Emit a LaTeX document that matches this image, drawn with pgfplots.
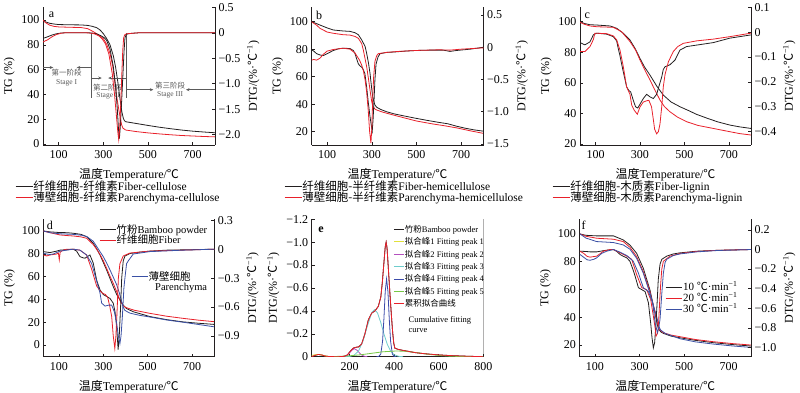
\documentclass[border=0pt]{standalone}
\usepackage{fontspec}
\setmainfont{Liberation Serif}
\newfontfamily\cjk{Noto Sans CJK SC}
\usepackage{pgfplots}
\pgfplotsset{compat=1.18}
\usetikzlibrary{arrows.meta}
\definecolor{cblk}{RGB}{35,31,32}
\definecolor{cred}{RGB}{232,32,42}
\definecolor{cblu}{RGB}{58,80,165}
\definecolor{cyel}{RGB}{225,225,60}
\definecolor{cpur}{RGB}{180,80,190}
\definecolor{ccya}{RGB}{110,205,205}
\definecolor{cnav}{RGB}{60,75,170}
\definecolor{cgrn}{RGB}{120,200,70}
\definecolor{cgry}{RGB}{90,90,90}
\pgfplotsset{
 base/.style={scale only axis, anchor=south west, xmin=30, xmax=800, height=137.5pt,
   tick align=inside, major tick length=3pt,
   every tick/.style={cblk, line width=0.5pt},
   axis line style={cblk, line width=0.6pt},
   tick label style={font=\fontsize{12}{12}\selectfont},
   xticklabel style={yshift=-2.5pt},
   label style={font=\fontsize{12}{13}\selectfont},
   xlabel style={yshift=-3pt},
   /pgf/number format/assume math mode=true,
   every axis plot/.append style={line width=0.8pt},
   legend cell align=left,
   legend style={draw=none, fill=none, inner sep=0pt, nodes={inner sep=0.5pt}},
 },
 tgax/.style={base, axis x line*=bottom, axis y line*=left, xtick={100,300,500,700},
   xlabel={{\cjk 温度}Temperature/{\cjk ℃}}, ylabel={TG (\%)}},
 dtgax/.style={base, axis x line=none, axis y line*=right, xtick=\empty,
   ylabel={DTG/(\%·{\cjk ℃}\textsuperscript{−1})}},
}
\begin{document}
\begin{tikzpicture}
\path[use as bounding box] (0,0) rectangle (800pt,392pt);
%================ a
\begin{axis}[tgax, at={(43pt,247.2pt)}, width=172pt, ymin=-0.6, ymax=110.2, ytick={0,20,40,60,80,100},
  legend style={at={(-0.163,-0.255)}, anchor=north west, font=\fontsize{11.5}{12}\selectfont, row sep=-1pt},
  legend image code/.code={\draw[#1] (0pt,0pt) -- (17pt,0pt);}]
\addplot[cblk] coordinates {(30,100)(40,98.5)(60,97.3)(80,96.7)(100,96.3)(150,96.1)(200,96.0)(230,95.6)(250,94.9)(270,93.8)(285,92.0)(300,89.0)(315,85.0)(330,80.0)(345,71.0)(355,62.0)(365,50.0)(375,36.0)(383,26.0)(390,20.5)(395,18.8)(400,18.0)(450,16.5)(500,15.0)(550,13.6)(600,12.4)(650,11.3)(700,10.4)(750,9.7)(800,9.1)};
\addlegendentry{{\cjk 纤维细胞-纤维素}Fiber-cellulose}
\addplot[cred] coordinates {(30,100)(40,98)(60,95.8)(80,94.8)(100,94.4)(150,94.1)(200,93.9)(230,93.0)(255,90.6)(280,87.8)(300,85.0)(315,80.5)(330,73.0)(342,63.0)(352,49.0)(362,36.0)(370,27.0)(376,21.0)(382,15.5)(388,12.8)(400,11.3)(450,10.0)(500,9.0)(550,8.2)(600,7.5)(650,6.9)(700,6.5)(750,6.1)(800,5.8)};
\addlegendentry{{\cjk 薄壁细胞-纤维素}Parenchyma-cellulose}
\draw[cgry, line width=0.8pt] (axis cs:248,89.4) -- (axis cs:248,37.2);
\draw[cgry, line width=0.8pt] (axis cs:405,89.4) -- (axis cs:405,37.2);
\begin{scope}[cgry, line width=0.6pt, -{Stealth[length=3.5pt,width=3pt]}]
\draw (axis cs:30,61.7) -- (axis cs:76,61.7);
\draw (axis cs:248,61.7) -- (axis cs:181,61.7);
\draw (axis cs:248,53.2) -- (axis cs:293,53.2);
\draw (axis cs:405,53.2) -- (axis cs:322,53.2);
\draw (axis cs:405,43.8) -- (axis cs:524,43.8);
\draw (axis cs:800,43.8) -- (axis cs:670,43.8);
\end{scope}
\begin{scope}[every node/.style={cgry, font=\fontsize{7.5}{8}\selectfont}]
\node at (axis cs:136,57.2) {\cjk 第一阶段};
\node at (axis cs:136,49.4) {Stage I};
\node at (axis cs:322,45.7) {\cjk 第二阶段};
\node at (axis cs:322,38.5) {Stage II};
\node at (axis cs:599,47) {\cjk 第三阶段};
\node at (axis cs:599,39.8) {Stage III};
\end{scope}
\node[font=\fontsize{12}{12}\selectfont] at (rel axis cs:0.05,0.944) {a};
\end{axis}
\begin{axis}[dtgax, at={(43pt,247.2pt)}, width=172pt, ymin=-2.2, ymax=0.5,
  ytick={0.5,0,-0.5,-1,-1.5,-2}, yticklabels={\textrm{0.5},\textrm{0},\textrm{−0.5},\textrm{−1.0},\textrm{−1.5},\textrm{−2.0}}]
\addplot[cblk] coordinates {(30,-0.11)(50,-0.08)(70,-0.045)(90,-0.02)(110,-0.005)(130,0)(230,0)(250,-0.005)(270,-0.02)(290,-0.06)(305,-0.1)(315,-0.15)(330,-0.32)(345,-0.67)(355,-1.05)(363,-1.52)(368,-1.9)(372,-2.08)(376,-1.85)(382,-1.35)(388,-0.8)(393,-0.35)(397,-0.1)(402,-0.04)(410,-0.02)(430,-0.01)(460,0)(800,0)};
\addplot[cred] coordinates {(30,-0.18)(50,-0.14)(70,-0.08)(90,-0.035)(110,-0.01)(130,0)(220,0)(240,-0.005)(260,-0.02)(280,-0.06)(295,-0.12)(310,-0.22)(325,-0.42)(340,-0.8)(350,-1.2)(358,-1.6)(365,-1.95)(369,-2.1)(373,-1.9)(378,-1.4)(383,-0.8)(387,-0.35)(391,-0.1)(396,-0.04)(405,-0.02)(430,-0.01)(460,0)(800,0)};
\end{axis}
%================ b
\begin{axis}[tgax, at={(311.5pt,247.2pt)}, width=172pt, ymin=10.5, ymax=110.5, ytick={20,40,60,80,100},
  legend style={at={(-0.16,-0.255)}, anchor=north west, font=\fontsize{11.5}{12}\selectfont, row sep=-1pt},
  legend image code/.code={\draw[#1] (0pt,0pt) -- (17pt,0pt);}]
\addplot[cblk] coordinates {(30,100)(53,98.6)(68,97.6)(100,95.5)(128,94.0)(170,93.3)(202,93.0)(225,92.0)(240,90.5)(255,86.7)(270,82)(277,77)(285,70)(292,62.5)(299,52)(304,45.5)(310,41.5)(314,39.4)(322,37.8)(340,36.2)(367,34.5)(400,33)(450,31.3)(500,29.7)(550,28.2)(600,26.8)(640,25.8)(680,24)(720,22.5)(760,21.3)(800,20.4)};
\addlegendentry{{\cjk 纤维细胞-半纤维素}Fiber-hemicellulose}
\addplot[cred] coordinates {(30,100)(53,97.5)(68,95.2)(100,92.5)(128,91.6)(170,90.6)(202,90.3)(225,89.3)(240,87.9)(255,84)(262,79.4)(270,73)(277,67.3)(285,58.5)(292,50.3)(299,42.5)(304,38.7)(314,36.5)(322,35.8)(350,34.2)(400,32)(426,30.9)(500,27.8)(575,25.6)(620,24.5)(680,22.8)(740,20.7)(800,18.8)};
\addlegendentry{{\cjk 薄壁细胞-半纤维素}Parenchyma-hemicellulose}
\node[font=\fontsize{12}{12}\selectfont] at (rel axis cs:0.044,0.944) {b};
\end{axis}
\begin{axis}[dtgax, at={(311.5pt,247.2pt)}, width=172pt, ymin=-1.515, ymax=0.62,
  ytick={0.5,0,-0.5,-1,-1.5}, yticklabels={\textrm{0.5},\textrm{0},\textrm{−0.5},\textrm{−1.0},\textrm{−1.5}}]
\addplot[cblk] coordinates {(31,-0.04)(40,-0.06)(53,-0.10)(68,-0.12)(83,-0.13)(100,-0.10)(128,-0.05)(150,-0.025)(172,-0.015)(202,-0.02)(217,-0.05)(225,-0.10)(232,-0.18)(240,-0.26)(247,-0.29)(255,-0.31)(262,-0.35)(269,-0.41)(277,-0.62)(284,-0.85)(292,-1.08)(298,-1.22)(302,-1.30)(306,-1.1)(310,-0.82)(314,-0.5)(319,-0.26)(328,-0.15)(337,-0.1)(367,-0.08)(396,-0.075)(450,-0.06)(500,-0.05)(560,-0.045)(620,-0.045)(650,-0.065)(680,-0.05)(740,-0.03)(800,0)};
\addplot[cred] coordinates {(31,-0.2)(40,-0.19)(53,-0.20)(68,-0.17)(83,-0.11)(100,-0.06)(128,-0.035)(172,-0.015)(202,-0.03)(225,-0.09)(232,-0.13)(245,-0.2)(255,-0.28)(262,-0.36)(270,-0.51)(277,-0.7)(284,-0.98)(290,-1.3)(296,-1.49)(300,-1.25)(304,-0.8)(308,-0.47)(314,-0.22)(322,-0.13)(329,-0.1)(367,-0.08)(420,-0.065)(500,-0.05)(600,-0.04)(650,-0.045)(700,-0.03)(800,-0.01)};
\end{axis}
%================ c
\begin{axis}[tgax, at={(580pt,247.2pt)}, width=171pt, ymin=19.5, ymax=109.4, ytick={20,40,60,80,100},
  legend style={at={(-0.164,-0.255)}, anchor=north west, font=\fontsize{11.5}{12}\selectfont, row sep=-1pt},
  legend image code/.code={\draw[#1] (0pt,0pt) -- (17pt,0pt);}]
\addplot[cblk] coordinates {(30,100)(50,98.8)(75,98.0)(105,97.8)(165,97.2)(195,95.7)(225,92.4)(255,88)(280,82)(300,76)(320,70.5)(345,65.1)(375,58)(405,52)(440,47.5)(480,44.4)(520,41.8)(555,39.4)(600,37)(650,34.5)(705,32.4)(750,31.2)(800,30.2)};
\addlegendentry{{\cjk 纤维细胞-木质素}Fiber-lignin}
\addplot[cred] coordinates {(30,99.6)(50,98.3)(75,97.2)(105,96.7)(180,96.3)(217,93.5)(255,87)(280,81.5)(300,75)(320,69)(345,61.9)(370,54.5)(390,48.8)(410,44.5)(435,41.1)(470,37.5)(510,34.6)(560,32.2)(630,30.2)(700,28.2)(750,26.8)(800,25.9)};
\addlegendentry{{\cjk 薄壁细胞-木质素}Parenchyma-lignin}
\node[font=\fontsize{12}{12}\selectfont] at (rel axis cs:0.043,0.937) {c};
\end{axis}
\begin{axis}[dtgax, at={(580pt,247.2pt)}, width=171pt, ymin=-0.453, ymax=0.1,
  ytick={0.1,0,-0.1,-0.2,-0.3,-0.4}, yticklabels={\textrm{0.1},\textrm{0},\textrm{−0.1},\textrm{−0.2},\textrm{−0.3},\textrm{−0.4}}]
\addplot[cblk] coordinates {(30,-0.042)(52,-0.051)(75,-0.039)(90,-0.011)(105,-0.004)(150,-0.008)(180,-0.018)(195,-0.035)(202,-0.065)(210,-0.095)(217,-0.126)(225,-0.16)(240,-0.22)(250,-0.235)(258,-0.24)(270,-0.274)(280,-0.30)(290,-0.305)(300,-0.29)(315,-0.267)(330,-0.25)(345,-0.26)(360,-0.267)(375,-0.25)(388,-0.21)(398,-0.18)(405,-0.15)(413,-0.139)(435,-0.131)(458,-0.112)(480,-0.072)(510,-0.058)(555,-0.052)(630,-0.042)(705,-0.024)(800,-0.011)};
\addplot[cred] coordinates {(30,-0.078)(52,-0.078)(75,-0.058)(90,-0.03)(97,-0.004)(150,-0.006)(180,-0.015)(195,-0.031)(210,-0.072)(225,-0.139)(240,-0.22)(255,-0.25)(263,-0.294)(275,-0.315)(288,-0.33)(300,-0.301)(315,-0.281)(330,-0.276)(340,-0.274)(352,-0.3)(360,-0.35)(366,-0.39)(375,-0.409)(383,-0.40)(390,-0.37)(398,-0.30)(405,-0.22)(413,-0.17)(428,-0.119)(450,-0.078)(470,-0.058)(495,-0.045)(555,-0.035)(630,-0.028)(705,-0.018)(800,-0.004)};
\end{axis}
%================ d
\begin{axis}[tgax, at={(43.3pt,35.3pt)}, width=171pt, ymin=-10.2, ymax=110.3, ytick={0,20,40,60,80,100},
  legend style={at={(0.326,0.966)}, anchor=north west, font=\fontsize{10.5}{11}\selectfont, row sep=-1pt},
  legend image code/.code={\draw[#1] (0pt,0pt) -- (16pt,0pt);}]
\addplot[cblk] coordinates {(30,100)(60,99.2)(105,98.6)(135,98.5)(165,98)(200,97)(225,95)(255,89.2)(270,84.5)(285,79)(300,72.5)(315,65.8)(330,58.5)(345,51.2)(360,44.5)(375,39.5)(390,35)(405,32)(435,29.2)(510,25.0)(585,22.3)(660,20.3)(730,19.1)(800,18.1)};
\addlegendentry{{\cjk 竹粉}Bamboo powder}
\addplot[cred] coordinates {(30,100)(60,98.5)(90,97.2)(105,96.5)(135,96)(165,95.6)(200,94.8)(225,93.6)(255,88)(270,84)(285,79.5)(300,74)(315,67.3)(330,60.5)(345,54.1)(362,46)(378,38)(390,34.5)(400,33)(440,30.5)(510,27.8)(585,25.3)(660,23.4)(730,21.8)(800,20.5)};
\addlegendentry{{\cjk 纤维细胞}Fiber}
\addplot[cblu] coordinates {(30,100)(60,98.5)(105,97.5)(165,97)(200,96.3)(225,95.2)(255,91)(285,82)(300,77.5)(315,72)(330,66)(345,59.5)(360,53)(372,46)(383,38)(390,33)(397,30.5)(410,29)(420,28)(465,26)(510,24.6)(585,22.0)(660,20)(730,18)(800,16)};
\node[font=\fontsize{12}{12}\selectfont] at (rel axis cs:0.039,0.958) {d};
\node[anchor=west, font=\fontsize{10.5}{11}\selectfont] at (rel axis cs:0.634,0.498) {Parenchyma};
\end{axis}
\begin{axis}[dtgax, at={(43.3pt,35.3pt)}, width=171pt, ymin=-1.115, ymax=0.311,
  ytick={0.3,0,-0.3,-0.6,-0.9}, yticklabels={\textrm{0.3},\textrm{0},\textrm{−0.3},\textrm{−0.6},\textrm{−0.9}},
  legend style={at={(0.513,0.627)}, anchor=north west, font=\fontsize{10.5}{11}\selectfont},
  legend image code/.code={\draw[#1] (0pt,0pt) -- (16pt,0pt);}]
\addplot[cblk, forget plot] coordinates {(30,-0.025)(60,-0.035)(90,-0.02)(105,-0.01)(135,-0.005)(165,0)(180,-0.02)(195,-0.077)(210,-0.09)(218,-0.093)(230,-0.075)(240,-0.06)(255,-0.145)(270,-0.32)(285,-0.42)(300,-0.47)(315,-0.49)(330,-0.51)(345,-0.56)(353,-0.65)(360,-0.8)(367,-1.04)(372,-0.9)(378,-0.6)(383,-0.3)(390,-0.12)(398,-0.07)(420,-0.045)(465,-0.03)(510,-0.02)(585,-0.01)(700,-0.005)(800,0)};
\addplot[cred, forget plot] coordinates {(30,-0.06)(45,-0.07)(60,-0.06)(75,-0.055)(90,-0.05)(98,-0.04)(102,-0.11)(106,-0.03)(120,-0.01)(135,0)(165,0)(195,-0.01)(225,-0.06)(248,-0.21)(270,-0.38)(285,-0.43)(293,-0.45)(300,-0.46)(310,-0.47)(320,-0.5)(330,-0.6)(338,-0.7)(345,-0.9)(352,-1.03)(357,-0.9)(363,-0.6)(368,-0.3)(375,-0.15)(390,-0.07)(420,-0.04)(510,-0.02)(800,0)};
\addplot[cblu] coordinates {(30,-0.04)(45,-0.05)(60,-0.055)(75,-0.05)(105,-0.02)(135,-0.01)(165,0)(195,-0.01)(225,-0.06)(248,-0.15)(270,-0.33)(285,-0.45)(293,-0.56)(308,-0.59)(325,-0.58)(338,-0.58)(350,-0.65)(360,-0.76)(368,-0.9)(375,-0.98)(380,-0.9)(386,-0.7)(393,-0.4)(398,-0.29)(405,-0.15)(413,-0.12)(435,-0.05)(510,-0.025)(660,-0.01)(800,0)};
\addlegendentry{\cjk 薄壁细胞}
\end{axis}
%================ e
\begin{axis}[base, at={(311.7pt,35.3pt)}, width=171.6pt, axis x line*=bottom, axis y line*=left,
  y dir=reverse, ymin=-1.2, ymax=0, xtick={200,400,600,800},
  ytick={0,-0.2,-0.4,-0.6,-0.8,-1,-1.2}, yticklabels={\textrm{0},\textrm{−0.2},\textrm{−0.4},\textrm{−0.6},\textrm{−0.8},\textrm{−1.0},\textrm{−1.2}},
  xlabel={{\cjk 温度}Temperature/{\cjk ℃}}, ylabel={DTG/(\%·{\cjk ℃}\textsuperscript{−1})},
  legend style={at={(0.476,0.962)}, anchor=north west, font=\fontsize{8.5}{9}\selectfont, row sep=2.7pt},
  legend image code/.code={\draw[#1] (0pt,0pt) -- (10pt,0pt);}]
\addplot[cblk] coordinates {(30,0)(45,-0.012)(60,-0.02)(75,-0.015)(90,-0.006)(110,-0.001)(150,0)(175,-0.003)(190,-0.015)(202,-0.045)(217,-0.075)(230,-0.083)(240,-0.085)(254,-0.11)(269,-0.2)(284,-0.32)(299,-0.38)(314,-0.40)(329,-0.44)(340,-0.52)(347,-0.65)(354,-0.82)(360,-0.96)(364,-1.0)(368,-0.95)(373,-0.8)(381,-0.55)(388,-0.35)(393,-0.22)(398,-0.12)(403,-0.075)(418,-0.064)(440,-0.055)(463,-0.047)(490,-0.037)(522,-0.029)(560,-0.022)(597,-0.016)(650,-0.01)(717,-0.005)(800,0)};
\addlegendentry{{\cjk 竹粉}Bamboo powder}
\addplot[cyel] coordinates {(30,-0.012)(45,-0.017)(60,-0.02)(75,-0.015)(90,-0.007)(105,-0.002)(120,0)(160,0)};
\addlegendentry{{\cjk 拟合峰}1 Fitting peak 1}
\addplot[cpur] coordinates {(160,0)(170,-0.001)(185,-0.0085)(200,-0.033)(210,-0.056)(222,-0.07)(235,-0.054)(250,-0.021)(265,-0.004)(280,0)};
\addlegendentry{{\cjk 拟合峰}2 Fitting peak 2}
\addplot[ccya] coordinates {(180,0)(200,-0.0025)(220,-0.013)(240,-0.049)(260,-0.136)(280,-0.27)(300,-0.387)(312,-0.41)(325,-0.383)(340,-0.298)(355,-0.193)(370,-0.104)(385,-0.047)(400,-0.017)(420,-0.0035)(440,0)};
\addlegendentry{{\cjk 拟合峰}3 Fitting peak 3}
\addplot[cnav] coordinates {(320,0)(330,-0.001)(340,-0.023)(348,-0.135)(354,-0.33)(360,-0.57)(366,-0.68)(372,-0.57)(378,-0.33)(384,-0.135)(392,-0.023)(400,-0.002)(410,0)};
\addlegendentry{{\cjk 拟合峰}4 Fitting peak 4}
\addplot[cgrn] coordinates {(100,0)(150,-0.003)(200,-0.008)(250,-0.017)(300,-0.030)(350,-0.043)(410,-0.05)(450,-0.047)(500,-0.036)(550,-0.022)(600,-0.011)(650,-0.0046)(700,-0.0016)(750,-0.0004)(800,0)};
\addlegendentry{{\cjk 拟合峰}5 Fitting peak 5}
\addplot[cred] coordinates {(30,0)(45,-0.012)(60,-0.02)(75,-0.015)(90,-0.006)(110,-0.001)(150,0)(175,-0.003)(190,-0.015)(202,-0.045)(217,-0.075)(230,-0.083)(240,-0.085)(254,-0.11)(269,-0.2)(284,-0.32)(299,-0.38)(314,-0.40)(329,-0.44)(340,-0.52)(347,-0.65)(354,-0.82)(360,-0.96)(364,-1.0)(368,-0.95)(373,-0.8)(381,-0.55)(388,-0.35)(393,-0.22)(398,-0.12)(403,-0.075)(418,-0.064)(440,-0.055)(463,-0.047)(490,-0.037)(522,-0.029)(560,-0.022)(597,-0.016)(650,-0.01)(717,-0.005)(800,0)};
\addlegendentry{\cjk 累积拟合曲线}
\draw[cblk, line width=0.6pt] (rel axis cs:1,0) -- (rel axis cs:1,1);
\node[font=\bfseries\fontsize{12}{12}\selectfont] at (rel axis cs:0.054,0.927) {e};
\node[anchor=north west, align=left, font=\fontsize{8.5}{9.5}\selectfont] at (rel axis cs:0.544,0.318) {Cumulative fitting\\curve};
\end{axis}
%================ f
\begin{axis}[tgax, at={(579.3pt,35.3pt)}, width=171.7pt, ymin=11.6, ymax=110.6, ytick={20,40,60,80,100},
  legend style={at={(0.499,0.55)}, anchor=north west, font=\fontsize{11}{11}\selectfont, row sep=-0.5pt},
  legend image code/.code={\draw[#1] (0pt,0pt) -- (16.7pt,0pt);}]
\addplot[cblk] coordinates {(33,100)(60,99)(108,98.6)(183,98.6)(227,95.7)(257,92)(287,86.1)(317,75.3)(347,59.6)(360,50)(370,42.8)(377,37)(384,32)(395,29.5)(407,28.4)(440,26.5)(482,25.2)(550,23.4)(631,21.7)(720,20.3)(800,19.3)};
\addlegendentry{10 {\cjk ℃}·min\textsuperscript{−1}}
\addplot[cred] coordinates {(33,100)(60,98.3)(108,96.9)(183,96.2)(227,94.5)(257,90.4)(287,83.7)(317,72.8)(347,58.4)(362,48)(374,40.4)(385,33)(392,30.8)(407,28.9)(440,27.2)(482,26)(550,24)(631,22.4)(720,21)(800,20)};
\addlegendentry{20 {\cjk ℃}·min\textsuperscript{−1}}
\addplot[cblu] coordinates {(33,100)(60,97)(108,94.5)(183,93.8)(227,92.1)(257,89)(287,82.5)(317,71.7)(347,57.3)(365,47)(377,40.4)(388,33)(395,30.8)(415,28.4)(482,24.5)(550,22.3)(631,20.7)(720,19.3)(800,18.3)};
\addlegendentry{30 {\cjk ℃}·min\textsuperscript{−1}}
\node[font=\fontsize{12}{12}\selectfont] at (rel axis cs:0.025,0.958) {f};
\end{axis}
\begin{axis}[dtgax, at={(579.3pt,35.3pt)}, width=171.7pt, ymin=-1.096, ymax=0.31,
  ytick={0.2,0,-0.2,-0.4,-0.6,-0.8,-1}, yticklabels={\textrm{0.2},\textrm{0},\textrm{−0.2},\textrm{−0.4},\textrm{−0.6},\textrm{−0.8},\textrm{−1.0}}]
\addplot[cblk] coordinates {(33,-0.017)(60,-0.02)(78,-0.024)(108,-0.024)(138,-0.012)(153,-0.007)(183,0)(198,-0.02)(213,-0.051)(228,-0.07)(243,-0.085)(257,-0.12)(270,-0.2)(280,-0.27)(295,-0.39)(310,-0.41)(325,-0.43)(340,-0.545)(350,-0.75)(356,-0.9)(362,-1.005)(368,-0.95)(374,-0.75)(380,-0.5)(384,-0.31)(392,-0.15)(400,-0.1)(422,-0.068)(452,-0.045)(482,-0.034)(557,-0.017)(650,-0.008)(800,0)};
\addplot[cred] coordinates {(33,-0.017)(50,-0.04)(65,-0.07)(78,-0.078)(95,-0.072)(108,-0.068)(125,-0.04)(138,-0.017)(168,0)(183,0)(213,-0.034)(243,-0.068)(265,-0.1)(287,-0.255)(310,-0.39)(332,-0.41)(350,-0.51)(362,-0.68)(370,-0.8)(374,-0.886)(380,-0.86)(384,-0.82)(390,-0.55)(395,-0.35)(400,-0.2)(407,-0.12)(437,-0.068)(482,-0.04)(557,-0.02)(650,-0.008)(800,0)};
\addplot[cblu] coordinates {(33,-0.05)(50,-0.08)(65,-0.105)(78,-0.11)(95,-0.1)(108,-0.085)(130,-0.04)(153,-0.017)(183,0)(213,-0.027)(243,-0.061)(272,-0.12)(295,-0.24)(317,-0.39)(340,-0.43)(359,-0.545)(370,-0.75)(380,-0.85)(386,-0.8)(392,-0.716)(400,-0.45)(407,-0.24)(415,-0.13)(422,-0.1)(452,-0.061)(482,-0.045)(557,-0.024)(650,-0.01)(800,0)};
\end{axis}
\end{tikzpicture}
\end{document}
